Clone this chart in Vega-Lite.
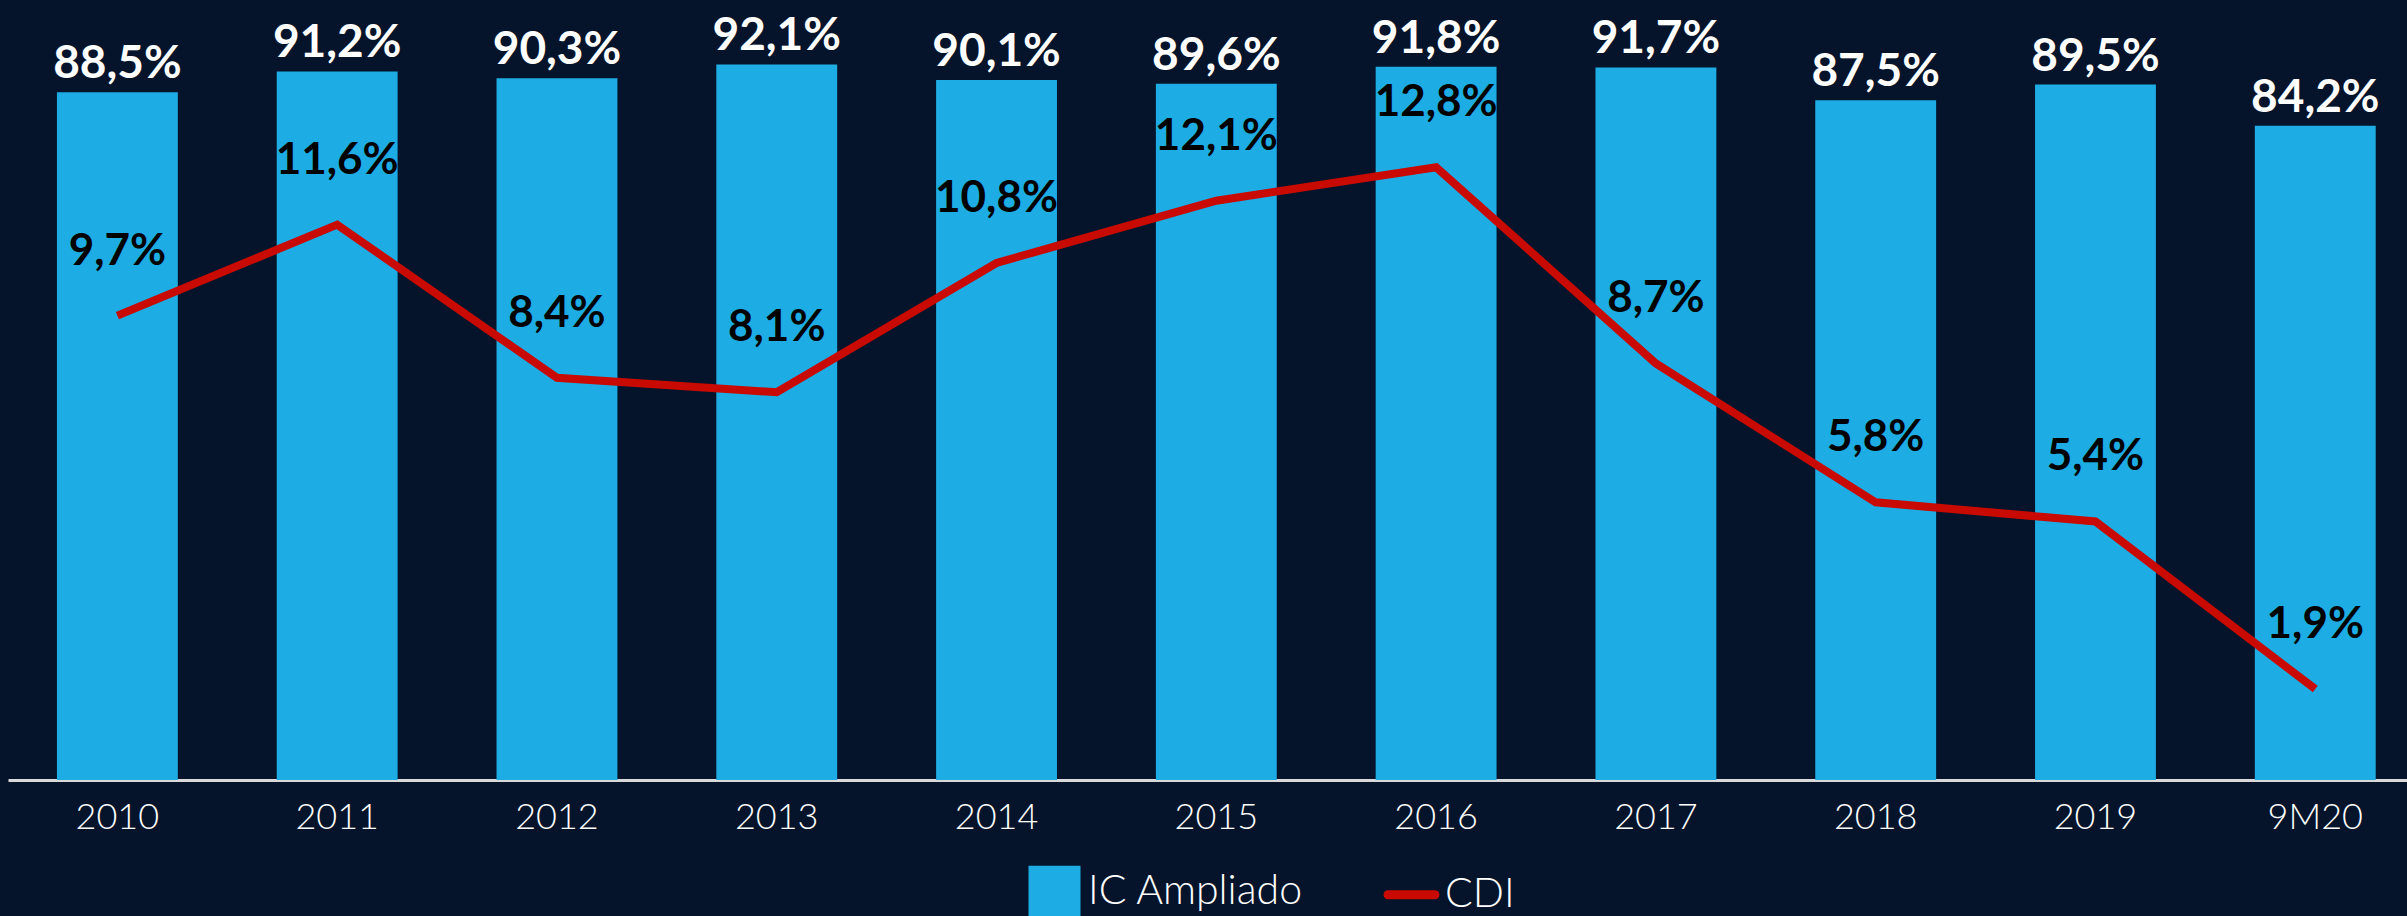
{
  "$schema": "https://vega.github.io/schema/vega-lite/v6.json",
  "width": 2399,
  "height": 777,
  "autosize": {"type": "none"},
  "padding": {"left": 8, "top": 3, "right": 0, "bottom": 136},
  "background": "#05142a",
  "config": {
    "view": {"stroke": null},
    "font": "Lato",
    "locale": {"number": {"decimal": ",", "thousands": ".", "grouping": [3], "currency": ["R$", ""]}}
  },
  "data": {
    "values": [
      {"ano": "2010", "ic": 0.885, "cdi": 0.097},
      {"ano": "2011", "ic": 0.912, "cdi": 0.116},
      {"ano": "2012", "ic": 0.903, "cdi": 0.084},
      {"ano": "2013", "ic": 0.921, "cdi": 0.081},
      {"ano": "2014", "ic": 0.901, "cdi": 0.108},
      {"ano": "2015", "ic": 0.896, "cdi": 0.121},
      {"ano": "2016", "ic": 0.918, "cdi": 0.128},
      {"ano": "2017", "ic": 0.917, "cdi": 0.087},
      {"ano": "2018", "ic": 0.875, "cdi": 0.058},
      {"ano": "2019", "ic": 0.895, "cdi": 0.054},
      {"ano": "9M20", "ic": 0.842, "cdi": 0.019}
    ]
  },
  "encoding": {
    "x": {
      "field": "ano",
      "type": "nominal",
      "sort": null,
      "scale": {"paddingInner": 0.45, "paddingOuter": 0.1825, "align": 0.61},
      "axis": {
        "title": null,
        "labelFont": "Lato",
        "labelFontSize": 36,
        "labelFontWeight": 300,
        "labelColor": "white",
        "labelPadding": 20,
        "labelAngle": 0,
        "ticks": false,
        "grid": false,
        "domainColor": "#d9d9d9",
        "domainWidth": 3
      }
    }
  },
  "layer": [
    {
      "encoding": {
        "y": {"field": "ic", "type": "quantitative", "scale": {"domain": [0, 1], "nice": false, "zero": true}, "axis": null}
      },
      "layer": [
        {
          "mark": {"type": "bar"},
          "encoding": {
            "color": {
              "datum": "IC Ampliado",
              "type": "nominal",
              "scale": {"domain": ["IC Ampliado", "CDI"], "range": ["#1DACE3", "#C80A00"]},
              "legend": {
                "orient": "none",
                "legendX": 1026,
                "legendY": 868,
                "direction": "horizontal",
                "title": null,
                "labelFont": "Lato",
                "labelFontSize": 41,
                "labelFontWeight": 300,
                "labelColor": "white",
                "labelLimit": 500,
                "labelBaseline": "middle",
                "symbolSize": 2704,
                "labelOffset": 13,
                "columnPadding": 66,
                "padding": 0,
                "symbolOpacity": 1,
                "encode": {
                  "symbols": {
                    "update": {
                      "shape": {"signal": "datum.value === 'CDI' ? 'stroke' : 'square'"},
                      "size": {"signal": "datum.value === 'CDI' ? 2209 : 2704"},
                      "fill": {"signal": "datum.value === 'CDI' ? 'transparent' : '#1DACE3'"},
                      "stroke": {"signal": "datum.value === 'CDI' ? '#C80A00' : 'transparent'"},
                      "strokeWidth": {"signal": "datum.value === 'CDI' ? 9 : 0"},
                      "strokeCap": {"value": "round"},
                      "opacity": {"value": 1}
                    }
                  }
                }
              }
            }
          }
        },
        {
          "mark": {"type": "text", "color": "white", "fontSize": 46, "fontWeight": "bold", "font": "Lato", "baseline": "alphabetic", "dy": -14},
          "encoding": {"text": {"field": "ic", "type": "quantitative", "format": ".1%"}}
        }
      ]
    },
    {
      "encoding": {
        "y": {"field": "cdi", "type": "quantitative", "scale": {"domain": [0, 0.1623], "nice": false, "zero": true}, "axis": null}
      },
      "layer": [
        {
          "mark": {"type": "line", "strokeWidth": 8},
          "encoding": {"color": {"datum": "CDI", "type": "nominal"}}
        },
        {
          "mark": {"type": "text", "color": "black", "fontSize": 44, "fontWeight": "bold", "font": "Lato", "baseline": "middle", "dy": -64},
          "encoding": {"text": {"field": "cdi", "type": "quantitative", "format": ".1%"}}
        }
      ]
    }
  ],
  "resolve": {"scale": {"y": "independent"}}
}
